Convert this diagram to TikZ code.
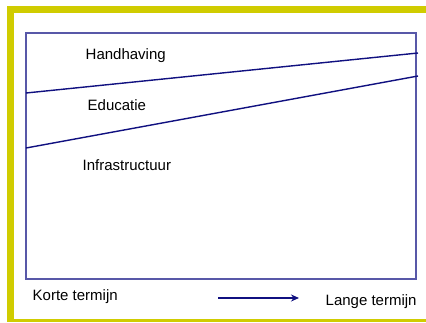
\documentclass[tikz,border=0pt]{standalone}
\usepackage{fontspec}
\setmainfont{Liberation Sans}
\usetikzlibrary{arrows.meta}
\definecolor{frameyellow}{RGB}{208,204,0}
\definecolor{boxblue}{RGB}{88,88,168}
\definecolor{navyline}{RGB}{16,16,128}
\begin{document}
\begin{tikzpicture}[x=1pt,y=-1pt,
  lbl/.style={anchor=base west,inner sep=0pt,font=\fontsize{15}{18}\selectfont},
  bar/.style={fill=frameyellow,draw=none}]
\useasboundingbox (0,0) rectangle (426,322);
\fill[white] (0,0) rectangle (426,322);
% yellow frame
\path[bar] (7,6) rectangle (426,12.5);
\path[bar] (7,6) rectangle (14,322);
\path[bar] (7,319) rectangle (426,321.5);
% box
\draw[boxblue,line width=1.6pt] (26,33) rectangle (416,279);
% separator lines
\coordinate (l1a) at (26,93);
\coordinate (l1b) at (418,53);
\coordinate (l2a) at (26,148);
\coordinate (l2b) at (418,76);
\draw[navyline,line width=1.4pt] (l1a) -- (l1b);
\draw[navyline,line width=1.4pt] (l2a) -- (l2b);
% labels
\node[lbl] (hand) at (85.5,59) {Handhaving};
\node[lbl] (edu) at (87.5,110) {Educatie};
\node[lbl] (infra) at (82.5,170) {Infrastructuur};
\node[lbl] (korte) at (32.5,300) {Korte termijn};
\node[lbl] (lange) at (325.5,305) {Lange termijn};
% arrow
\coordinate (ars) at (218,298);
\coordinate (are) at (299,298);
\draw[navyline,line width=1.8pt,-{Stealth[length=8pt,width=7pt]}] (ars) -- (are);
\end{tikzpicture}
\end{document}
